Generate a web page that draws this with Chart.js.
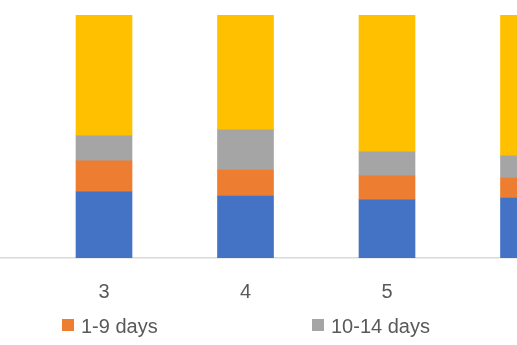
<!DOCTYPE html>
<html>
<head>
<meta charset="utf-8">
<script src="https://cdn.jsdelivr.net/npm/chart.js@4.4.1/dist/chart.umd.min.js"></script>
<style>
  html, body { margin: 0; padding: 0; background: #fff; overflow: hidden; }
  #wrap { position: relative; width: 517px; height: 345px; }
  #legend { position: absolute; left: 0; top: 315px; width: 517px; height: 28px;
    font: 20px "Liberation Sans", Arial, sans-serif; color: #595959; }
  .item { position: absolute; top: 0; white-space: nowrap; line-height: 23px; padding-left: 19px; }
  .box { position: absolute; left: 0; top: 4px; width: 12px; height: 12px; }
</style>
</head>
<body>
<div id="wrap">
  <canvas id="chart" width="517" height="345"></canvas>
  <div id="legend"></div>
</div>
<script>
// Visible categories (the picture is a crop of a wider chart)
const categories = [3, 4, 5, 6];

// Share of cases per category, percent
const days0 = [27.2, 25.5, 23.9, 24.7];
const days1to9 = [12.8, 10.7, 9.9, 8.2];
const days10to14 = [10.3, 16.5, 9.9, 9.1];
const days15plus = [49.7, 47.3, 56.3, 58.0];

const seriesNames = ["0 days", "1-9 days", "10-14 days", "15+ days"];
const seriesValues = [days0, days1to9, days10to14, days15plus];
const seriesColors = ["#4472C4", "#ED7D31", "#A5A5A5", "#FFC000"];

// only these legend entries fall inside the cropped picture
const legendShown = [1, 2];

// x scale: category 3 sits at 104px, one category = 141.5px
const pxPerUnit = 141.5;
const xMin = 3 - 104 / pxPerUnit;
const xMax = xMin + 517 / pxPerUnit;

const font = { family: '"Liberation Sans", Arial, sans-serif', size: 20 };

const datasets = seriesNames.map((name, s) => ({
  label: name,
  data: categories.map((c, i) => ({ x: c, y: seriesValues[s][i] })),
  backgroundColor: seriesColors[s],
  borderWidth: 0,
  barThickness: 56,
}));

const chart = new Chart(document.getElementById("chart"), {
  type: "bar",
  data: { datasets: datasets },
  options: {
    responsive: false,
    animation: false,
    layout: { padding: { top: 15, bottom: 19, left: 0, right: 0 } },
    plugins: {
      legend: { display: false },
      tooltip: { enabled: false },
    },
    scales: {
      x: {
        type: "linear",
        stacked: true,
        min: xMin,
        max: xMax,
        offset: false,
        grid: { display: false, drawTicks: false },
        border: { display: true, color: "#D9D9D9", width: 1.5 },
        ticks: {
          padding: 22,
          color: "#595959",
          font: font,
          autoSkip: false,
          maxRotation: 0,
          callback: (v) => String(v),
        },
        afterBuildTicks: (axis) => {
          axis.ticks = categories
            .filter((v) => v >= axis.min && v <= axis.max)
            .map((v) => ({ value: v }));
        },
      },
      y: { display: false, stacked: true, min: 0, max: 100 },
    },
  },
});

// legend laid out in even slots like the original, built from the datasets
const legendEl = document.getElementById("legend");
const slotWidth = 250;
const firstSlotLeft = 62 - slotWidth; // slot of series 0, off to the left
legendShown.forEach((s) => {
  const item = document.createElement("div");
  item.className = "item";
  item.style.left = firstSlotLeft + s * slotWidth + "px";
  const box = document.createElement("span");
  box.className = "box";
  box.style.background = chart.data.datasets[s].backgroundColor;
  item.appendChild(box);
  item.appendChild(document.createTextNode(chart.data.datasets[s].label));
  legendEl.appendChild(item);
});
</script>
</body>
</html>
